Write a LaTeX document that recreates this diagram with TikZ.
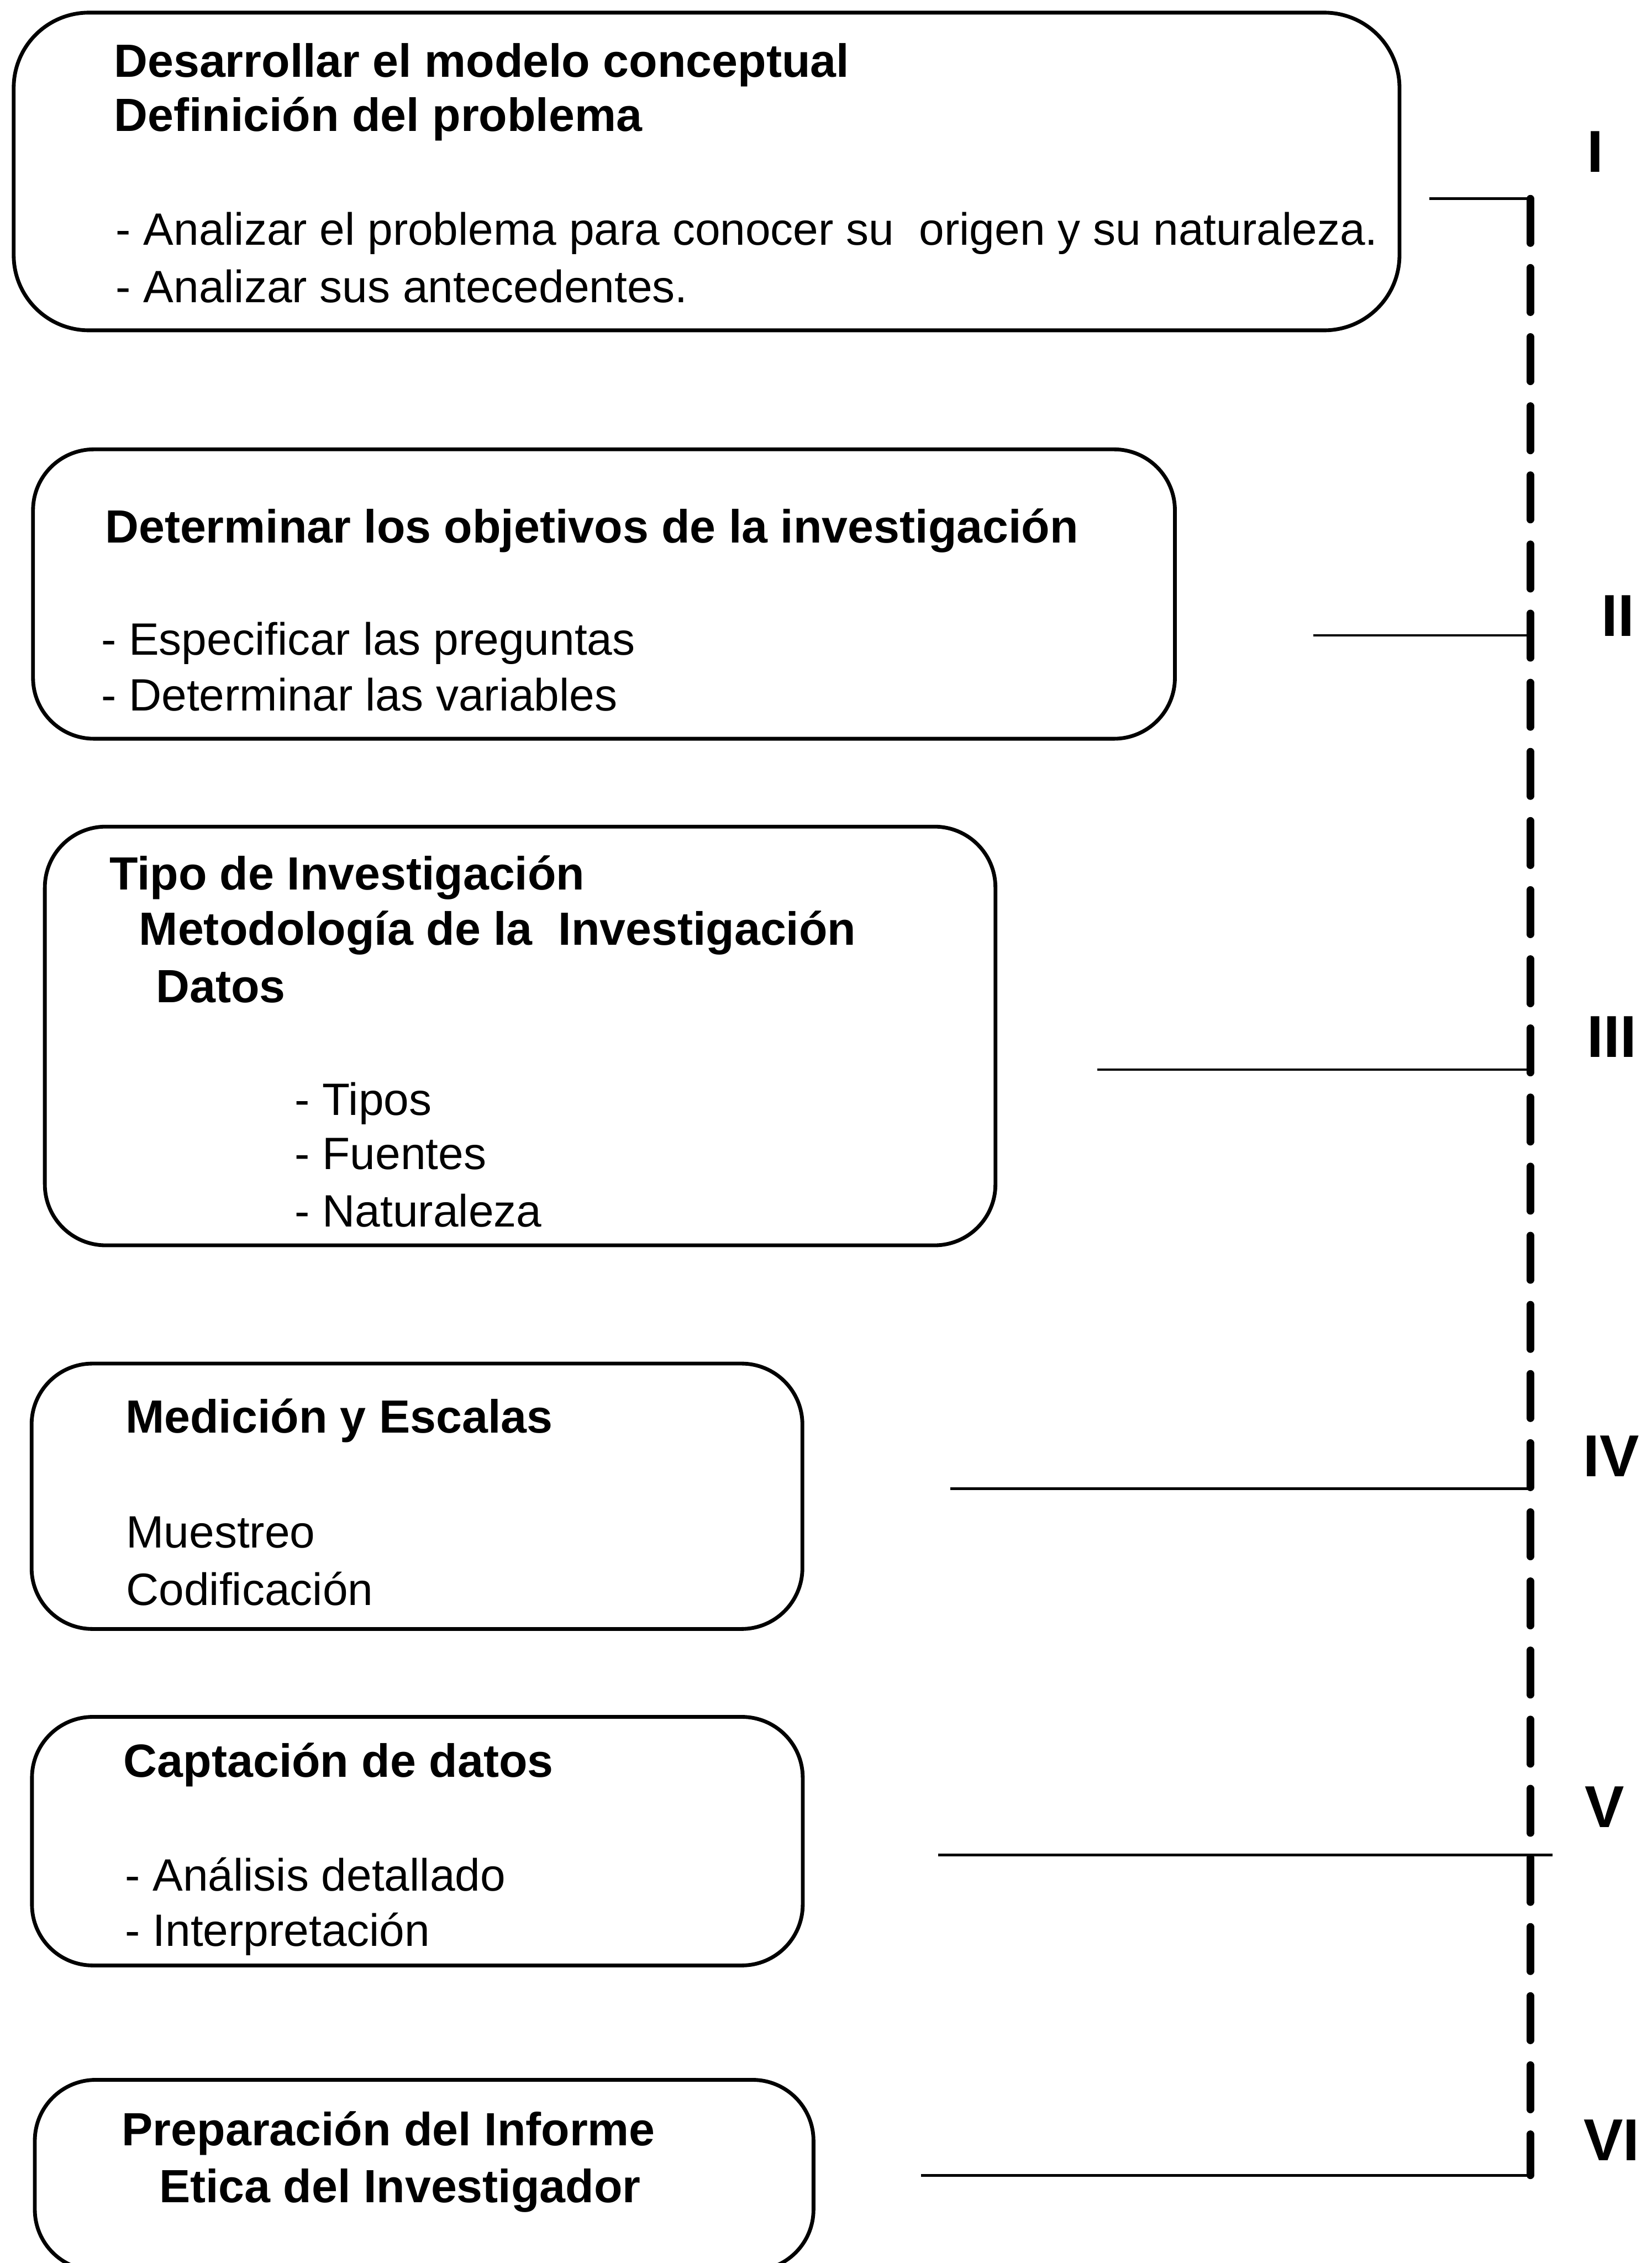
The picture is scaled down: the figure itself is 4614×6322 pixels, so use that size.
\documentclass[tikz,border=0pt]{standalone}
\usepackage{fontspec}
\setmainfont{Liberation Sans}
\begin{document}
\begin{tikzpicture}[x=0.01cm,y=-0.01cm,
  panel/.style={draw=black, line width=3pt, rounded corners=1.7cm, anchor=north west, inner sep=0pt},
  head/.style={anchor=base west, inner sep=0pt, font=\fontsize{37}{44}\selectfont\bfseries},
  body/.style={anchor=base west, inner sep=0pt, font=\fontsize{36}{43}\selectfont},
  stage/.style={anchor=base, inner sep=0pt, font=\fontsize{47}{56}\selectfont\bfseries},
  link/.style={line width=2pt},
  spine/.style={line width=6pt, line cap=round, dash pattern=on 1.24cm off 0.69cm}]
\useasboundingbox (0,0) rectangle (4614,6322);
\clip (0,0) rectangle (4614,6322);

% the six stage boxes
\node[panel, rounded corners=2.1cm, minimum width=38.69cm, minimum height=8.87cm] (b1) at (33,30) {};
\node[panel, minimum width=31.88cm, minimum height=8.08cm] (b2) at (87,1250) {};
\node[panel, minimum width=26.54cm, minimum height=11.69cm] (b3) at (120,2304) {};
\node[panel, minimum width=21.52cm, minimum height=7.41cm] (b4) at (83,3804) {};
\node[panel, minimum width=21.52cm, minimum height=6.94cm] (b5) at (84,4791) {};
\node[panel, minimum width=21.74cm, minimum height=5.32cm] (b6) at (92,5805) {};

% box texts
\node[head] (t11) at (318,215) {Desarrollar el modelo conceptual};
\node[head] (t12) at (318,367) {Definición del problema};
\node[body] (t13) at (323,685) {- Analizar el problema para conocer su\ \ origen y su naturaleza.};
\node[body] (t14) at (323,845) {- Analizar sus antecedentes.};

\node[head] (t21) at (293,1516) {Determinar los objetivos de la investigación};
\node[body] (t22) at (282,1829) {- Especificar las preguntas};
\node[body] (t23) at (282,1986) {- Determinar las variables};

\node[head] (t31) at (305,2486) {Tipo de Investigación};
\node[head] (t32) at (388,2640) {Metodología de la\ \ Investigación};
\node[head] (t33) at (435,2801) {Datos};
\node[body] (t34) at (823,3116) {- Tipos};
\node[body] (t35) at (823,3266) {- Fuentes};
\node[body] (t36) at (823,3427) {- Naturaleza};

\node[head] (t41) at (350,4003) {Medición y Escalas};
\node[body] (t42) at (352,4324) {Muestreo};
\node[body] (t43) at (352,4485) {Codificación};

\node[head] (t51) at (345,4964) {Captación de datos};
\node[body] (t52) at (349,5283) {- Análisis detallado};
\node[body] (t53) at (349,5436) {- Interpretación};

\node[head] (t61) at (340,5994) {Preparación del Informe};
\node[head] (t62) at (444,6153) {Etica del Investigador};

% stage numerals
\node[stage] (sI)   at (4456,480)  {I};
\node[stage] (sII)  at (4520,1777) {II};
\node[stage] (sIII) at (4503,2954) {III};
\node[stage] (sIV)  at (4501,4125) {IV};
\node[stage] (sV)   at (4482,5105) {V};
\node[stage] (sVI)  at (4502,6036) {VI};

% spine and branch ends
\coordinate (top) at (4275,555);
\coordinate (bot) at (4275,6077);
\coordinate (eI)   at (3993,555);
\coordinate (eII)  at (3668,1775);
\coordinate (eIII) at (3065,2988);
\coordinate (eIV)  at (2654,4159);
\coordinate (eV)   at (2621,5182);
\coordinate (eVr)  at (4337,5182);
\coordinate (eVI)  at (2573,6077);

\draw[spine] (top) -- (bot);
\draw[link] (eI) -- (top);
\draw[link] (eII) -- (eII -| top);
\draw[link] (eIII) -- (eIII -| top);
\draw[link] (eIV) -- (eIV -| top);
\draw[link] (eV) -- (eVr);
\draw[link] (eVI) -- (bot);
\end{tikzpicture}
\end{document}
